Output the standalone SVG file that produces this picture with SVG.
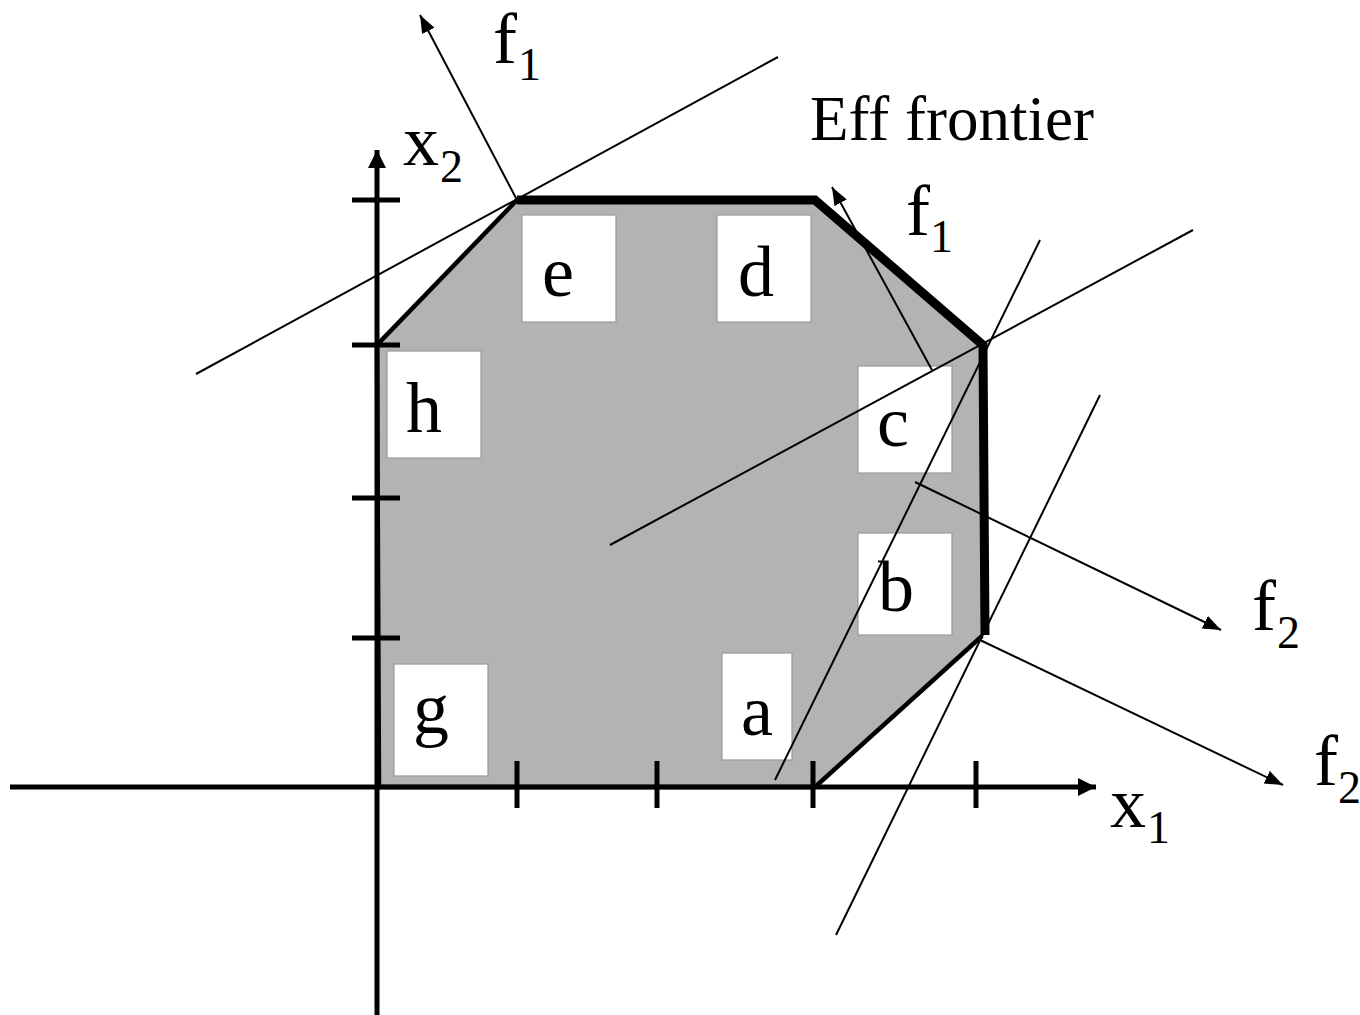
<svg xmlns="http://www.w3.org/2000/svg" width="1360" height="1015" viewBox="0 0 1360 1015">
<style>
.lbl{font-family:"Liberation Serif","Times New Roman",serif;font-size:72px;fill:#000}
.eff-t{font-family:"Liberation Serif","Times New Roman",serif;font-size:63px;fill:#000}
.sub{font-family:"Liberation Serif","Times New Roman",serif;font-size:46px;fill:#000}
.box{fill:#fff;stroke:#999;stroke-width:1.2}
.thin{stroke:#000;stroke-width:2;fill:none}
.edge{stroke:#000;stroke-width:4.5;fill:none;stroke-linejoin:miter}
.eff{stroke:#000;stroke-width:9;fill:none;stroke-linejoin:miter}
.axis{stroke:#000;stroke-width:5;fill:none}
</style>
<defs>
<marker id="ah" markerUnits="userSpaceOnUse" markerWidth="20" markerHeight="16" refX="18" refY="7" orient="auto">
<path d="M0,0 L18,7 L0,14 Z" fill="#000"/>
</marker>
<marker id="axh" markerUnits="userSpaceOnUse" markerWidth="20" markerHeight="20" refX="18" refY="9" orient="auto">
<path d="M0,0 L18,9 L0,18 Z" fill="#000"/>
</marker>
</defs>
<rect width="1360" height="1015" fill="#fff"/>
<g id="region">
<polygon points="377,345 517,200 815,200 983,345 985,635 815,787 379,787" fill="#b3b3b3"/>
</g>
<g id="box-e"><rect class="box" x="522" y="215" width="94" height="107"/><text class="lbl" x="558" y="296" text-anchor="middle">e</text></g>
<g id="box-d"><rect class="box" x="717" y="215" width="94" height="107"/><text class="lbl" x="756" y="296" text-anchor="middle">d</text></g>
<g id="box-h"><rect class="box" x="387" y="351" width="94" height="107"/><text class="lbl" x="424" y="432" text-anchor="middle">h</text></g>
<g id="box-c"><rect class="box" x="858" y="366" width="94" height="107"/><text class="lbl" x="893" y="446" text-anchor="middle">c</text></g>
<g id="box-b"><rect class="box" x="858" y="533" width="94" height="102"/><text class="lbl" x="896" y="611" text-anchor="middle">b</text></g>
<g id="box-g"><rect class="box" x="394" y="664" width="94" height="112"/><text class="lbl" x="431" y="733" text-anchor="middle">g</text></g>
<g id="box-a"><rect class="box" x="722" y="653" width="70" height="107"/><text class="lbl" x="757" y="735" text-anchor="middle">a</text></g>
<g id="axes">
<line class="axis" x1="377" y1="1015" x2="377" y2="150" marker-end="url(#axh)"/>
<line class="axis" x1="10" y1="787" x2="1096" y2="787" marker-end="url(#axh)"/>
<g class="axis" stroke-width="4">
<line x1="352" y1="200" x2="400" y2="200"/>
<line x1="352" y1="345" x2="400" y2="345"/>
<line x1="352" y1="498" x2="400" y2="498"/>
<line x1="352" y1="638" x2="400" y2="638"/>
<line x1="517" y1="761" x2="517" y2="808"/>
<line x1="657" y1="761" x2="657" y2="808"/>
<line x1="813" y1="761" x2="813" y2="808"/>
<line x1="976" y1="761" x2="976" y2="808"/>
</g>
</g>
<g id="boundary">
<polyline class="edge" points="379,787 377,345 517,200"/>
<line class="edge" x1="379" y1="787" x2="815" y2="787"/>
<polyline class="edge" points="815,787 982,636"/>
<polyline class="eff" points="517,200 815,200 983,345 985,635"/>
</g>
<g id="connectors">
<line class="thin" x1="196" y1="374" x2="778" y2="57"/>
<line class="thin" x1="517" y1="200" x2="420" y2="15" marker-end="url(#ah)"/>
<line class="thin" x1="610" y1="545" x2="1193" y2="230"/>
<line class="thin" x1="932" y1="370" x2="832" y2="187" marker-end="url(#ah)"/>
<line class="thin" x1="775" y1="780" x2="1040" y2="240"/>
<line class="thin" x1="836" y1="935" x2="1100" y2="395"/>
<line class="thin" x1="915" y1="482" x2="1221" y2="630" marker-end="url(#ah)"/>
<line class="thin" x1="980" y1="640" x2="1283" y2="785" marker-end="url(#ah)"/>
</g>
<g id="labels">
<text class="lbl" x="493" y="63">f</text><text class="sub" x="518" y="80">1</text>
<text class="lbl" x="403" y="165">x</text><text class="sub" x="440" y="182">2</text>
<text class="eff-t" x="810" y="140">Eff frontier</text>
<text class="lbl" x="906" y="235">f</text><text class="sub" x="930" y="252">1</text>
<text class="lbl" x="1252" y="630">f</text><text class="sub" x="1277" y="648">2</text>
<text class="lbl" x="1314" y="785">f</text><text class="sub" x="1338" y="803">2</text>
<text class="lbl" x="1110" y="827">x</text><text class="sub" x="1147" y="843">1</text>
</g>
</svg>
